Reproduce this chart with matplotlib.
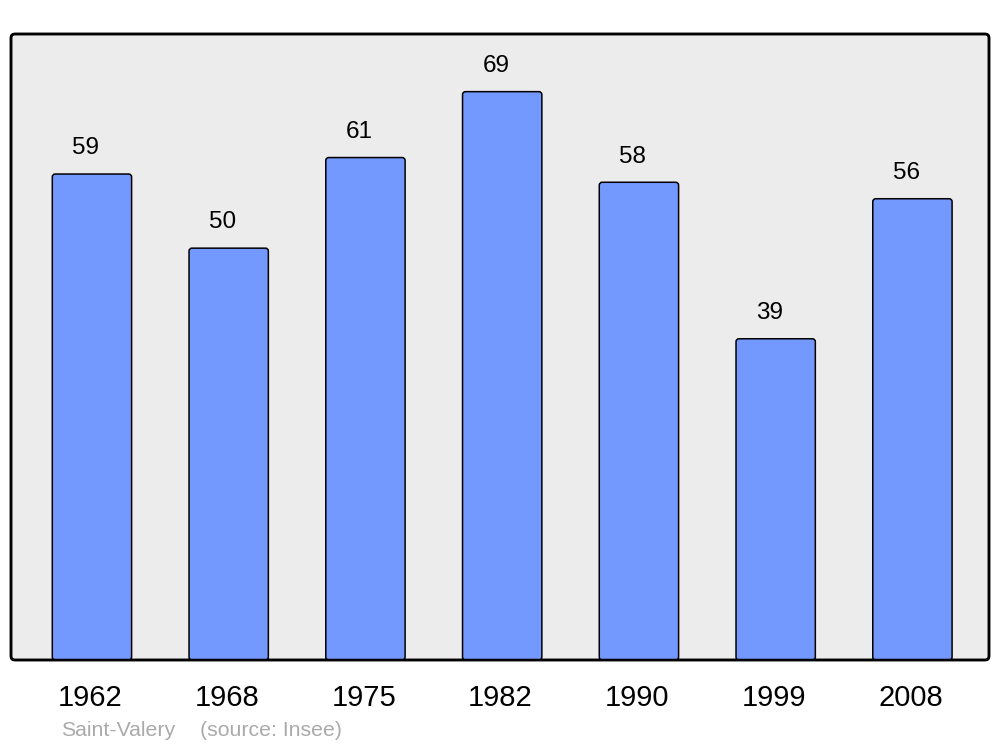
import numpy as np
import matplotlib.pyplot as plt
from matplotlib.patches import FancyBboxPatch

plt.rcParams['font.family'] = ['Liberation Sans', 'DejaVu Sans']

# Data
years = ['1962', '1968', '1975', '1982', '1990', '1999', '2008']
population = [59, 50, 61, 69, 58, 39, 56]
place = 'Saint-Valery'
source = '(source: Insee)'

bar_color = '#7399ff'
bg_color = '#ececec'

fig = plt.figure(figsize=(10, 7.47), dpi=100)
ax = fig.add_axes([0.011, 87 / 747, 0.978, 626 / 747])
ax.set_xlim(-0.592, 6.56)
ax.set_ylim(0, 76)
ax.set_facecolor('none')
for s in ax.spines.values():
    s.set_visible(False)

# rounded background frame
frame = FancyBboxPatch((0, 0), 1, 1, boxstyle='round,pad=0,rounding_size=0.004',
                       mutation_aspect=978 / 626, transform=ax.transAxes,
                       facecolor=bg_color, edgecolor='black', linewidth=1.8,
                       zorder=0, clip_on=False)
ax.add_patch(frame)

x = np.arange(len(years))
bars = ax.bar(x, population, width=0.58, color='none', edgecolor='none')
for b in bars:
    rb = FancyBboxPatch((b.get_x(), 0), b.get_width(), b.get_height(),
                        boxstyle='round,pad=0,rounding_size=0.022',
                        mutation_aspect=16.4, facecolor=bar_color,
                        edgecolor='black', linewidth=1.1, zorder=2)
    ax.add_patch(rb)

for xi, v in zip(x, population):
    ax.annotate(str(v), (xi, v), xytext=(-4.5, 18.5), textcoords='offset points',
                ha='center', va='center', fontsize=17.5, color='black')

# redraw frame edge on top
edge = FancyBboxPatch((0, 0), 1, 1, boxstyle='round,pad=0,rounding_size=0.004',
                      mutation_aspect=978 / 626, transform=ax.transAxes,
                      facecolor='none', edgecolor='black', linewidth=1.8,
                      zorder=3, clip_on=False)
ax.add_patch(edge)

ax.set_xticks(x - 0.012)
ax.set_xticklabels(years, fontsize=21)
ax.tick_params(axis='x', length=0, pad=17)
ax.set_yticks([])

fig.text(0.061, 1 - 730 / 747, place, fontsize=15.3, color='#aaaaaa', va='center', ha='left')
fig.text(0.200, 1 - 730 / 747, source, fontsize=15.3, color='#aaaaaa', va='center', ha='left')

fig.savefig('out.png', dpi=100)
